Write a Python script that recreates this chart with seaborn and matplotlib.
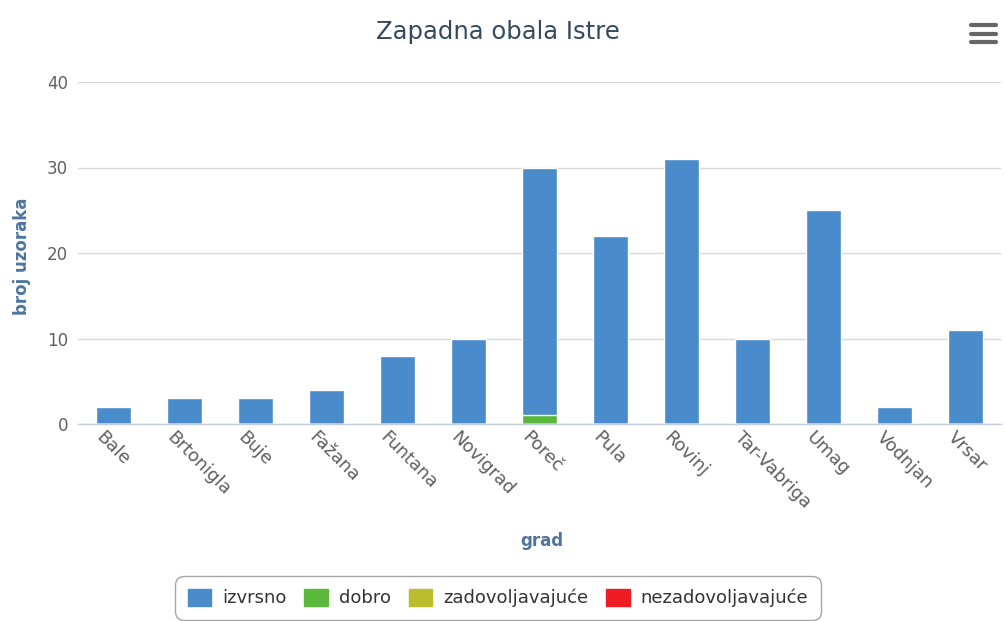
import numpy as np
import pandas as pd
import matplotlib
matplotlib.use("Agg")
import matplotlib.pyplot as plt
from matplotlib.lines import Line2D
from matplotlib.patches import Patch
from matplotlib.transforms import ScaledTranslation
import seaborn as sns

# --- data ---
gradovi = ["Bale", "Brtonigla", "Buje", "Fažana", "Funtana", "Novigrad", "Poreč",
           "Pula", "Rovinj", "Tar-Vabriga", "Umag", "Vodnjan", "Vrsar"]
izvrsno = [2, 3, 3, 4, 8, 10, 29, 22, 31, 10, 25, 2, 11]
dobro = [0, 0, 0, 0, 0, 0, 1, 0, 0, 0, 0, 0, 0]
zadovoljavajuce = [0] * 13
nezadovoljavajuce = [0] * 13

serije = ["izvrsno", "dobro", "zadovoljavajuće", "nezadovoljavajuće"]
boje = ["#4a8bcb", "#5cb83c", "#bcbc2c", "#ee1c24"]
y_ticks = [0, 10, 20, 30, 40]

df = pd.DataFrame({"grad": gradovi, "izvrsno": izvrsno, "dobro": dobro,
                   "zadovoljavajuce": zadovoljavajuce,
                   "nezadovoljavajuce": nezadovoljavajuce})
# stacked totals, bottom series last
df["t_nezad"] = df["nezadovoljavajuce"]
df["t_zad"] = df["t_nezad"] + df["zadovoljavajuce"]
df["t_dobro"] = df["t_zad"] + df["dobro"]
df["t_izvrsno"] = df["t_dobro"] + df["izvrsno"]

sns.set_style("white")
plt.rcParams["font.family"] = ["DejaVu Sans"]

fig = plt.figure(figsize=(10.05, 6.21), dpi=100)
ax = fig.add_axes([78 / 1005, 197 / 621, 923 / 1005, 342 / 621])

for col, c in zip(["t_izvrsno", "t_dobro", "t_zad", "t_nezad"], boje):
    sns.barplot(data=df, x="grad", y=col, color=c, width=0.49, ax=ax,
                saturation=1, edgecolor="white", linewidth=1.0, zorder=3)

ax.set_ylim(0, 40)
ax.set_xlim(-0.5, len(gradovi) - 0.5)
ax.set_yticks(y_ticks)
ax.set_yticklabels([str(v) for v in y_ticks], color="#606060", fontsize=12)
ax.yaxis.grid(True, color="#d8d8d8", linewidth=1, zorder=0)
ax.tick_params(axis="y", length=0, pad=7)

# category boundary ticks
ax.set_xticks(np.arange(len(gradovi) + 1) - 0.5, minor=True)
ax.tick_params(axis="x", which="minor", length=9, color="#b8c4d4", width=1)
ax.tick_params(axis="x", which="major", length=0, pad=6)
ax.set_xticks(range(len(gradovi)))
ax.set_xticklabels(gradovi, rotation=-45, ha="left", va="center",
                   rotation_mode="anchor", color="#606060", fontsize=13)
for lbl in ax.get_xticklabels():
    lbl.set_transform(lbl.get_transform() + ScaledTranslation(-0.15, -0.02, fig.dpi_scale_trans))

for s in ["top", "right", "left"]:
    ax.spines[s].set_visible(False)
ax.spines["bottom"].set_color("#c0d0e0")
ax.spines["bottom"].set_linewidth(1)

ax.set_xlabel("grad", color="#4d759e", fontsize=12, fontweight="bold")
ax.set_ylabel("broj uzoraka", color="#4d759e", fontsize=12, fontweight="bold")
ax.xaxis.set_label_coords(0.502, -0.316)
ax.yaxis.set_label_coords(-0.061, 0.49)
ax.yaxis.label.set_va("center")

fig.text(498 / 1005, 1 - 32 / 621, "Zapadna obala Istre", ha="center", va="center",
         fontsize=17.5, color="#34495e")

# menu icon
for yy in [25, 34, 42]:
    fig.add_artist(Line2D([971 / 1005, 996 / 1005], [1 - yy / 621] * 2,
                          color="#666666", linewidth=3, solid_capstyle="round"))

handles = [Patch(facecolor=c, edgecolor=c, label=s) for s, c in zip(serije, boje)]
leg = fig.legend(handles=handles, loc="center", bbox_to_anchor=(498 / 1005, 1 - 598 / 621),
                 ncol=4, frameon=True, fontsize=13, handlelength=1.3, handleheight=1.1,
                 columnspacing=1.0, handletextpad=0.6, borderpad=0.5)
leg.get_frame().set_edgecolor("#909090")
leg.get_frame().set_linewidth(1)
leg.get_frame().set_boxstyle("round,pad=0.2,rounding_size=0.5")
for t in leg.get_texts():
    t.set_color("#333333")

fig.savefig("out.png", dpi=100)
